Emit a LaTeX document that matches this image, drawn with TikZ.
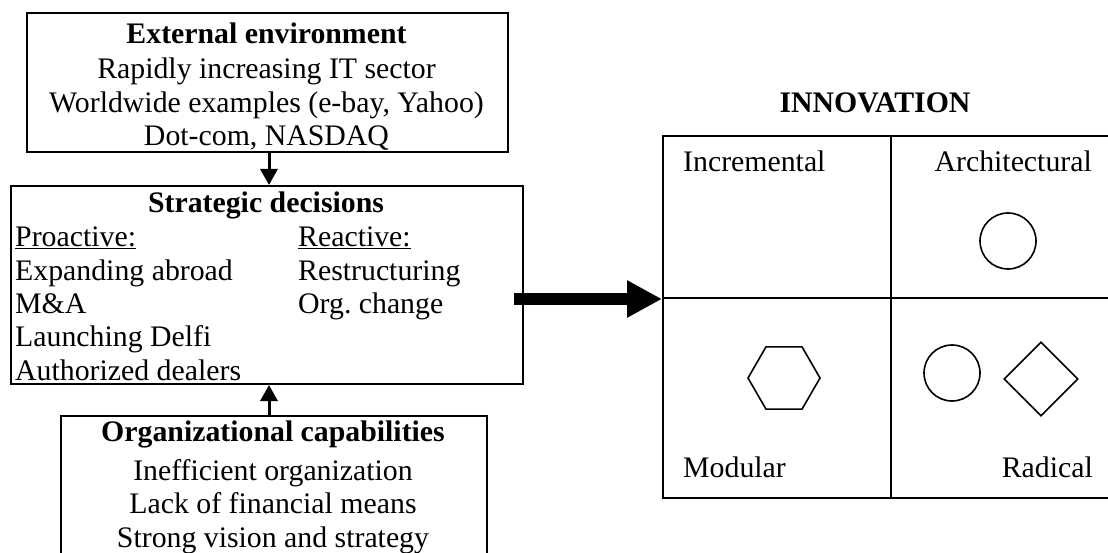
\documentclass[tikz,border=0pt]{standalone}
\usepackage{fontspec}
\setmainfont{Liberation Serif}
\usetikzlibrary{arrows.meta,shapes.geometric}
\frenchspacing
\begin{document}
\begin{tikzpicture}[x=1pt,y=1pt,
  box/.style={draw,line width=2pt,rectangle,inner sep=0pt,anchor=north west},
  txt/.style={inner sep=0pt,anchor=base,font=\fontsize{29.8}{33}\selectfont},
  ttl/.style={inner sep=0pt,anchor=base,font=\fontsize{29.8}{33}\selectfont\bfseries},
  lft/.style={txt,anchor=base west},
  rgt/.style={txt,anchor=base east},
  shp/.style={draw,line width=1.6pt,inner sep=0pt},
  sarrow/.style={line width=3pt,-{Triangle[length=16pt,width=17pt]}},
  bigarrow/.style={line width=11pt,-{Triangle[length=35pt,width=35pt]}}
]
\useasboundingbox (0,0) rectangle (1108,-553);

% External environment
\node[box,minimum width=481pt,minimum height=139pt] (ext) at (26,-12) {};
\node[ttl] (e0) at (266.5,-44) {External environment};
\node[txt] (e1) at (266.5,-79) {Rapidly increasing IT sector};
\node[txt] (e2) at (266.5,-113) {Worldwide examples (e-bay, Yahoo)};
\node[txt] (e3) at (266.5,-146) {Dot-com, NASDAQ};

% Strategic decisions
\node[box,minimum width=512pt,minimum height=198pt] (strat) at (10,-185) {};
\node[ttl] (s0) at (266,-213) {Strategic decisions};
\node[lft] (s1) at (15,-246.5) {\underline{Proactive:}};
\node[lft] (s2) at (298,-246.5) {\underline{Reactive:}};
\node[lft] (s3) at (15,-280) {Expanding abroad};
\node[lft] (s4) at (298,-280) {Restructuring};
\node[lft] (s5) at (15,-313) {M\&A};
\node[lft] (s6) at (298,-313) {Org.\ change};
\node[lft] (s7) at (15,-346.5) {Launching Delfi};
\node[lft] (s8) at (15,-380) {Authorized dealers};

% Organizational capabilities
\node[box,minimum width=426pt,minimum height=150pt] (org) at (60,-415) {};
\node[ttl] (o0) at (273,-441) {Organizational capabilities};
\node[txt] (o1) at (273,-480) {Inefficient organization};
\node[txt] (o2) at (273,-513.5) {Lack of financial means};
\node[txt] (o3) at (273,-547) {Strong vision and strategy};

% Innovation matrix
\node[ttl] (inn) at (875,-113) {INNOVATION};
\node[box,minimum width=228pt,minimum height=162pt] (q1) at (662,-135) {};
\node[box,minimum width=222pt,minimum height=162pt] (q2) at (890,-135) {};
\node[box,minimum width=228pt,minimum height=200pt] (q3) at (662,-297) {};
\node[box,minimum width=222pt,minimum height=200pt] (q4) at (890,-297) {};
\node[lft] (linc) at (683,-172) {Incremental};
\node[rgt] (larc) at (1092,-172) {Architectural};
\node[lft] (lmod) at (683,-477) {Modular};
\node[rgt] (lrad) at (1093,-477) {Radical};

\node[shp,circle,minimum size=56pt] (c1) at (1008,-241) {};
\node[shp,regular polygon,regular polygon sides=6,minimum size=72pt] (hex) at (784,-378) {};
\node[shp,circle,minimum size=56pt] (c2) at (952,-373) {};
\node[shp,diamond,aspect=1,minimum width=74pt,minimum height=74pt] (dia) at (1041,-379) {};

% Connectors
\path (ext.south) ++(1.5,0) coordinate (a1s);
\path (a1s |- strat.north) coordinate (a1e);
\draw[sarrow] (a1s) -- (a1e);
\path (org.north) ++(-5,0) coordinate (a2s);
\path (a2s |- strat.south) coordinate (a2e);
\draw[sarrow] (a2s) -- (a2e);
\path (strat.east |- q1.south west) ++(-10,0) coordinate (bs);
\draw[bigarrow] (bs) -- (q1.south west);
\end{tikzpicture}
\end{document}
